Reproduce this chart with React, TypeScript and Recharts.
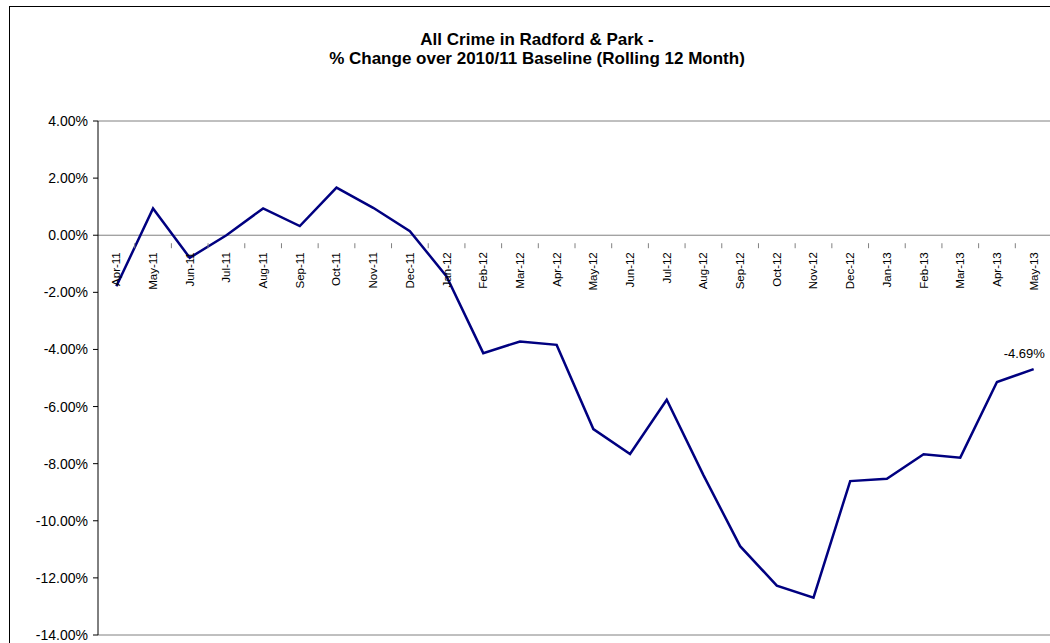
import React from 'react';
import { LineChart, Line, XAxis, YAxis, ReferenceLine } from 'recharts';

const months = ['Apr-11','May-11','Jun-11','Jul-11','Aug-11','Sep-11','Oct-11','Nov-11','Dec-11','Jan-12','Feb-12','Mar-12','Apr-12','May-12','Jun-12','Jul-12','Aug-12','Sep-12','Oct-12','Nov-12','Dec-12','Jan-13','Feb-13','Mar-13','Apr-13','May-13'];
const changePct = [-1.79, 0.94, -0.79, 0.0, 0.94, 0.32, 1.67, 0.96, 0.14, -1.44, -4.13, -3.72, -3.84, -6.79, -7.66, -5.76, -8.40, -10.89, -12.27, -12.69, -8.61, -8.53, -7.67, -7.79, -5.14, -4.69];
const yTicks = [-14, -12, -10, -8, -6, -4, -2, 0, 2, 4];
const titleLines = ['All Crime in Radford & Park -', '% Change over 2010/11 Baseline (Rolling 12 Month)'];

const data = months.map((m, i) => ({ month: m, value: changePct[i] }));

const CHART_W = 1060;
const CHART_H = 643;
const X_AXIS_H = 1;
const MARGIN = { top: 121, right: 8, bottom: 7, left: 0 };
const Y_AXIS_W = 98;
const PLOT_W = CHART_W - MARGIN.left - MARGIN.right - Y_AXIS_W;
const PLOT_H = CHART_H - MARGIN.top - MARGIN.bottom - X_AXIS_H;
const Y_MIN = -14;
const Y_MAX = 4;
const ZERO_SHIFT = ((0 - Y_MIN) / (Y_MAX - Y_MIN)) * PLOT_H;
const BAND = PLOT_W / months.length;
const FONT = '"Liberation Sans", Arial, sans-serif';

const XTick = (props: any) => {
  const { x, y, payload } = props;
  const zy = y - ZERO_SHIFT;
  return (
    <g>
      <line x1={x + BAND / 2} x2={x + BAND / 2} y1={zy} y2={zy + 5} stroke="#808080" strokeWidth={1} />
      <text
        x={x}
        y={zy + 9}
        transform={`rotate(-90, ${x}, ${zy + 9})`}
        textAnchor="end"
        dominantBaseline="central"
        fontSize={11.5}
        fontFamily={FONT}
        fill="#000"
      >
        {payload.value}
      </text>
    </g>
  );
};

const LastLabel = (props: any) => {
  const { x, y, index } = props;
  if (index !== months.length - 1) return null;
  return (
    <text x={x - 30} y={y - 11} textAnchor="start" fontSize={13} fontFamily={FONT} fill="#000">
      {changePct[index].toFixed(2) + '%'}
    </text>
  );
};

export default function App() {
  return (
    <div style={{ position: 'absolute', left: 0, top: 0, width: 1050, height: 643, overflow: 'hidden', background: '#fff' }}>
      <div style={{ position: 'absolute', left: 9, top: 6, width: 1100, height: 700, borderLeft: '1px solid #000', borderTop: '1px solid #000' }} />
      <div style={{ position: 'absolute', left: 0, top: 0 }}>
        <LineChart width={CHART_W} height={CHART_H} data={data} margin={MARGIN}>
          <ReferenceLine y={Y_MAX} stroke="#808080" strokeWidth={1} />
          <ReferenceLine y={Y_MIN} stroke="#808080" strokeWidth={1} />
          <ReferenceLine y={0} stroke="#808080" strokeWidth={1} />
          <XAxis
            dataKey="month"
            interval={0}
            height={X_AXIS_H}
            padding={{ left: BAND / 2, right: BAND / 2 }}
            axisLine={false}
            tickLine={false}
            tick={<XTick />}
          />
          <YAxis
            width={Y_AXIS_W}
            domain={[Y_MIN, Y_MAX]}
            ticks={yTicks}
            allowDataOverflow
            tickFormatter={(v: number) => v.toFixed(2) + '%'}
            axisLine={{ stroke: '#000', strokeWidth: 1 }}
            tickLine={{ stroke: '#000', strokeWidth: 1 }}
            tickSize={5}
            tick={{ fontSize: 14, fontFamily: FONT, fill: '#000', dx: -3 }}
          />
          <Line
            type="linear"
            dataKey="value"
            stroke="#000080"
            strokeWidth={2.5}
            dot={false}
            isAnimationActive={false}
            label={<LastLabel />}
          />
        </LineChart>
      </div>
      <div style={{ position: 'absolute', left: 0, top: 30, width: 1074, textAlign: 'center', fontFamily: FONT, fontWeight: 'bold', fontSize: 17, lineHeight: '19px', color: '#000' }}>
        <div>{titleLines[0]}</div>
        <div>{titleLines[1]}</div>
      </div>
    </div>
  );
}
